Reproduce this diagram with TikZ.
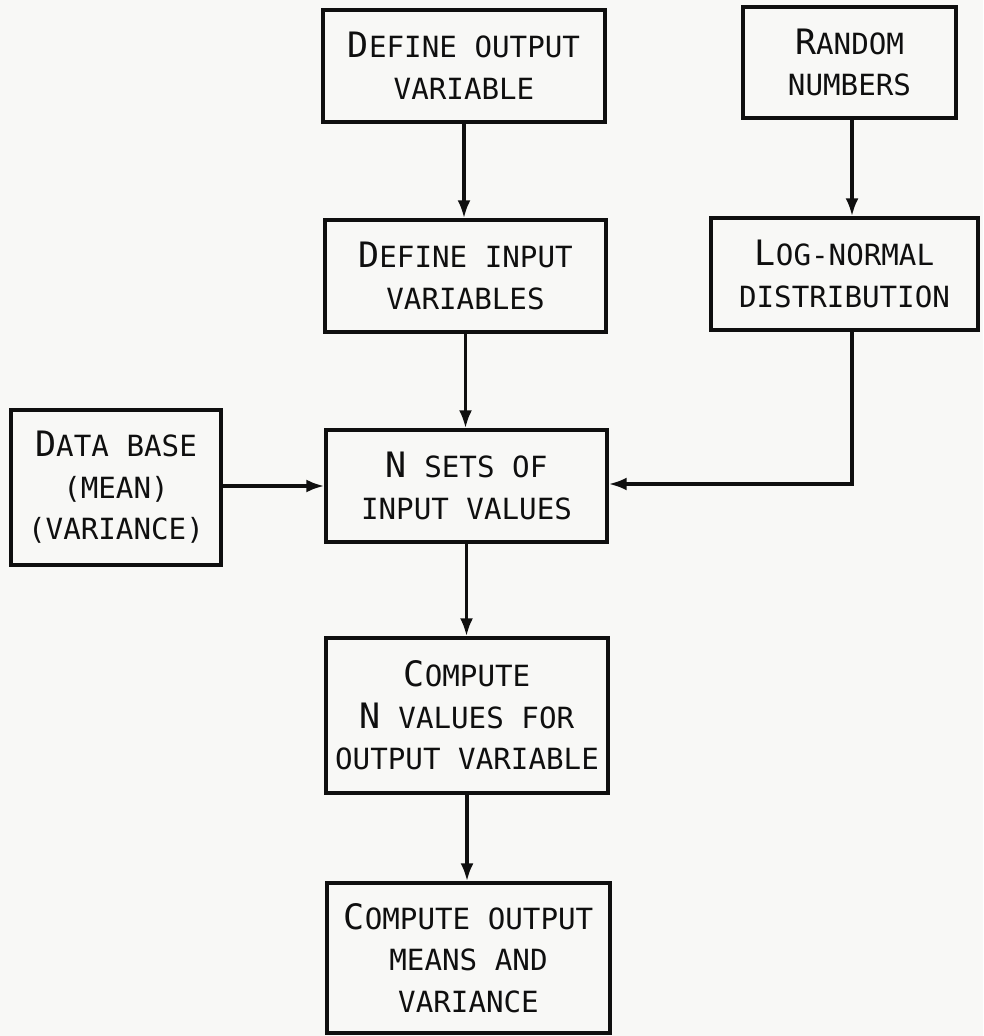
\documentclass[tikz,border=0pt]{standalone}
\usepackage{fontspec}
\usetikzlibrary{arrows.meta}
\newfontfamily\plotfont{DejaVu Sans Mono}
\definecolor{paper}{RGB}{248,248,246}
\definecolor{ink}{RGB}{15,15,15}
% enlarged initial letter for the small-caps lettering
\newcommand\initial[1]{{\fontsize{17.5}{20.5}\selectfont #1}}
\tikzset{
  box/.style={draw=ink, line width=1.7pt, inner sep=0pt, align=center,
    text=ink, font=\plotfont\fontsize{14.6}{20.8}\selectfont},
  link/.style={draw=ink, line width=1.7pt,
    -{Latex[length=9pt,width=6.5pt]}}
}
\begin{document}
\begin{tikzpicture}[x=0.5pt,y=-0.5pt]
  \fill[paper] (0,0) rectangle (983,1036);
  \useasboundingbox (0,0) rectangle (983,1036);

  \node[box, minimum width=141pt, minimum height=56pt] (outvar) at (464,66)
    {\initial{D}EFINE OUTPUT\\VARIABLE};
  \node[box, minimum width=106.5pt, minimum height=55.5pt] (rand) at (849.5,62.5)
    {\initial{R}ANDOM\\NUMBERS};
  \node[box, minimum width=140.5pt, minimum height=56pt] (invar) at (465.5,276)
    {\initial{D}EFINE INPUT\\VARIABLES};
  \node[box, minimum width=133.5pt, minimum height=56pt] (lognorm) at (844.5,274)
    {\initial{L}OG-NORMAL\\DISTRIBUTION};
  \node[box, minimum width=105pt, minimum height=77.5pt] (database) at (116,487.5)
    {\initial{D}ATA BASE\\(MEAN)\\(VARIANCE)};
  \node[box, minimum width=140.5pt, minimum height=56pt] (nsets) at (466.5,486)
    {\initial{N} SETS OF\\INPUT VALUES};
  \node[box, minimum width=141pt, minimum height=77.5pt] (nvalues) at (467,715.5)
    {\initial{C}OMPUTE\\\initial{N} VALUES FOR\\OUTPUT VARIABLE};
  \node[box, minimum width=141.5pt, minimum height=75pt] (means) at (468.5,958)
    {\initial{C}OMPUTE OUTPUT\\MEANS AND\\VARIANCE};

  \coordinate (drop) at (852,484);

  \draw[link] (outvar.south) -- (outvar.south |- invar.north);
  \draw[link] (invar.south) -- (invar.south |- nsets.north);
  \draw[link] (drop |- rand.south) -- (drop |- lognorm.north);
  \draw[link] (drop |- lognorm.south) -- (drop) -- (drop -| nsets.east);
  \draw[link] (database.east |- nsets.west) -- (nsets.west);
  \draw[link] (nsets.south) -- (nsets.south |- nvalues.north);
  \draw[link] (nvalues.south) -- (nvalues.south |- means.north);
\end{tikzpicture}
\end{document}
